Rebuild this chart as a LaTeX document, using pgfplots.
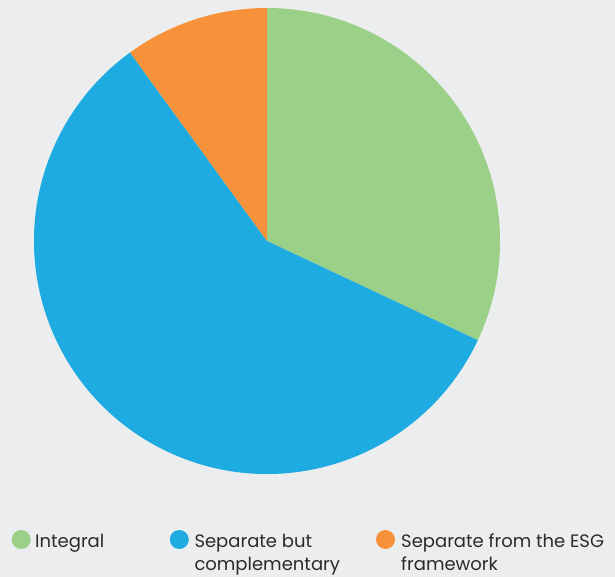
\documentclass[border=0pt]{standalone}
\usepackage{pgfplots}
\pgfplotsset{compat=1.18}
\usepackage{pgfplotstable}
\usepackage{fontspec}
\setmainfont{Poppins}
\definecolor{bg}{HTML}{ECEDEF}
\definecolor{pie0}{HTML}{9BD088}
\definecolor{pie1}{HTML}{1EABE2}
\definecolor{pie2}{HTML}{F7923A}
\definecolor{txt}{HTML}{2B2B2B}
\pgfplotstableread{
idx value
0 32
1 58
2 10
}\piedata
\gdef\cum{90}%
\pgfplotsforeachungrouped \i in {0,1,2}{%
  \pgfplotstablegetelem{\i}{value}\of\piedata
  \pgfmathsetmacro\ang{\pgfplotsretval*3.6}%
  \pgfmathsetmacro\e{\cum-\ang}%
  \expandafter\xdef\csname pieS\i\endcsname{\cum}%
  \expandafter\xdef\csname pieE\i\endcsname{\e}%
  \xdef\cum{\e}%
}%
\begin{document}
\begin{tikzpicture}
\fill[bg] (0,0) rectangle (615bp,577bp);
\begin{axis}[at={(34bp,103bp)}, anchor=south west, scale only axis,
  width=466bp, height=466bp, xmin=-1, xmax=1, ymin=-1, ymax=1, hide axis]
\pgfplotsinvokeforeach{0,1,2}{
  \fill[pie#1] (axis cs:0,0) -- (axis cs:{cos(\csname pieS#1\endcsname)},{sin(\csname pieS#1\endcsname)})
    arc[start angle=\csname pieS#1\endcsname, end angle=\csname pieE#1\endcsname, radius=233bp] -- cycle;
}
\end{axis}
\begin{scope}[every node/.style={font=\fontsize{18bp}{21bp}\selectfont, text=txt, inner sep=0pt, anchor=base west}]
\fill[pie0] (21.2bp,37.5bp) circle[radius=9.5bp];
\fill[pie1] (179.3bp,37.5bp) circle[radius=9.5bp];
\fill[pie2] (385.5bp,37.5bp) circle[radius=9.5bp];
\node at (35bp,29.3bp) {Integral};
\node at (194.3bp,29.3bp) {Separate but};
\node at (194.3bp,7bp) {complementary};
\node at (401bp,29.3bp) {Separate from the ESG};
\node at (401bp,7bp) {framework};
\end{scope}
\end{tikzpicture}
\end{document}
